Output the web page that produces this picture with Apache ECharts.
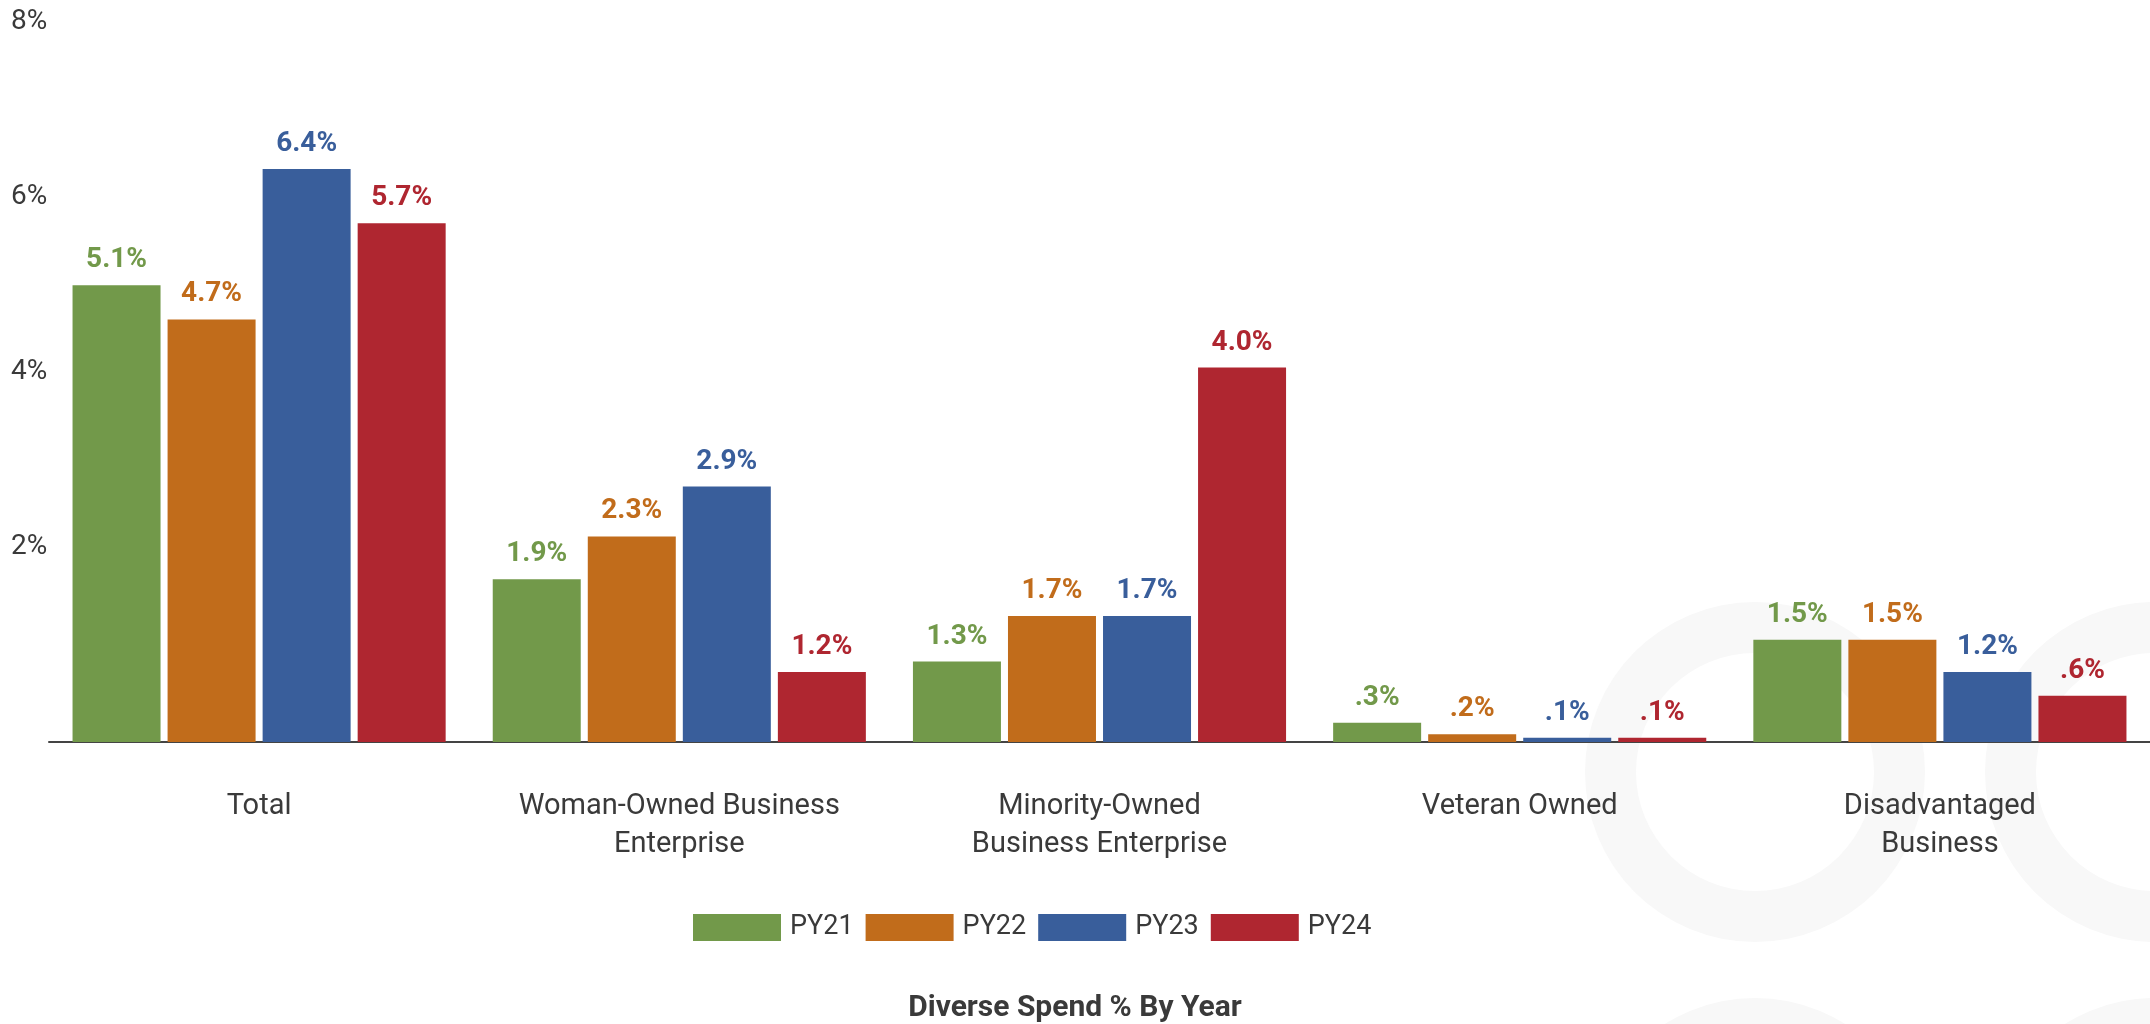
<!DOCTYPE html>
<html>
<head>
<meta charset="utf-8">
<script src="https://cdn.jsdelivr.net/npm/echarts@6/dist/echarts.min.js"></script>
<style>
html,body{margin:0;padding:0;background:#fff;}
#chart{width:2150px;height:1024px;}
</style>
</head>
<body>
<div id="chart"></div>
<script>
const categories = ["Total", "Woman-Owned Business\nEnterprise", "Minority-Owned\nBusiness Enterprise", "Veteran Owned", "Disadvantaged\nBusiness"];
const seriesNames = ["PY21", "PY22", "PY23", "PY24"];
const py21 = [5.22, 1.86, 0.92, 0.22, 1.17];
const py22 = [4.83, 2.35, 1.44, 0.09, 1.17];
const py23 = [6.55, 2.92, 1.44, 0.05, 0.80];
const py24 = [5.93, 0.80, 4.28, 0.05, 0.53];
const py21Labels = ["5.1%", "1.9%", "1.3%", ".3%", "1.5%"];
const py22Labels = ["4.7%", "2.3%", "1.7%", ".2%", "1.5%"];
const py23Labels = ["6.4%", "2.9%", "1.7%", ".1%", "1.2%"];
const py24Labels = ["5.7%", "1.2%", "4.0%", ".1%", ".6%"];
const yTicks = [0, 2, 4, 6, 8];
const colors = ["#72994a", "#c16c1b", "#395e9b", "#af2630"];
const chartTitle = "Diverse Spend % By Year";

const values = [py21, py22, py23, py24];
const labels = [py21Labels, py22Labels, py23Labels, py24Labels];
const FONT = "Roboto, 'Noto Sans', sans-serif";

const chart = echarts.init(document.getElementById('chart'), null, {renderer: 'canvas'});

const ringColor = '#f8f8f8';
const option = {
  backgroundColor: '#ffffff',
  animation: false,
  graphic: [
    {type: 'ring', z: -10, silent: true, shape: {cx: 1755, cy: 772, r: 170, r0: 119}, style: {fill: ringColor}},
    {type: 'ring', z: -10, silent: true, shape: {cx: 2155, cy: 772, r: 170, r0: 119}, style: {fill: ringColor}},
    {type: 'ring', z: -10, silent: true, shape: {cx: 1755, cy: 1168, r: 170, r0: 119}, style: {fill: ringColor}},
    {type: 'ring', z: -10, silent: true, shape: {cx: 2155, cy: 1168, r: 170, r0: 119}, style: {fill: ringColor}},
    {type: 'text', left: 'center', top: 993, z: 10,
      style: {text: chartTitle, font: "bold 30px " + FONT, fill: '#3a3a3a'}}
  ],
  grid: {left: 49, right: 0, top: 42, bottom: 282, containLabel: false},
  legend: {
    data: seriesNames,
    left: 688,
    top: 909,
    itemWidth: 88,
    itemHeight: 27,
    itemGap: 12,
    icon: 'rect',
    textStyle: {fontFamily: FONT, fontSize: 27, color: '#3a3a3a', padding: [0, 0, 0, 4]}
  },
  xAxis: {
    type: 'category',
    data: categories,
    axisLine: {show: true, lineStyle: {color: '#444', width: 2}},
    axisTick: {show: false},
    axisLabel: {fontFamily: FONT, fontSize: 29, color: '#3a3a3a', lineHeight: 38, margin: 46, interval: 0}
  },
  yAxis: {
    type: 'value',
    min: 0, max: 8, interval: 2,
    splitLine: {show: false},
    axisLine: {show: false},
    axisTick: {show: false},
    axisLabel: {
      fontFamily: FONT, fontSize: 28, color: '#3a3a3a', align: 'left', margin: 38,
      verticalAlign: 'bottom', lineHeight: 40,
      formatter: function (v) { return yTicks.indexOf(v) > 0 ? v + '%' : ''; }
    }
  },
  series: seriesNames.map(function (name, i) {
    return {
      name: name,
      type: 'bar',
      data: values[i],
      barWidth: 88,
      barGap: '8%',
      itemStyle: {color: colors[i]},
      label: {
        show: true,
        position: 'top',
        distance: 11,
        fontFamily: FONT,
        fontWeight: 'bold',
        fontSize: 28,
        color: colors[i],
        formatter: function (p) { return labels[i][p.dataIndex]; }
      }
    };
  })
};
chart.setOption(option);
</script>
</body>
</html>
